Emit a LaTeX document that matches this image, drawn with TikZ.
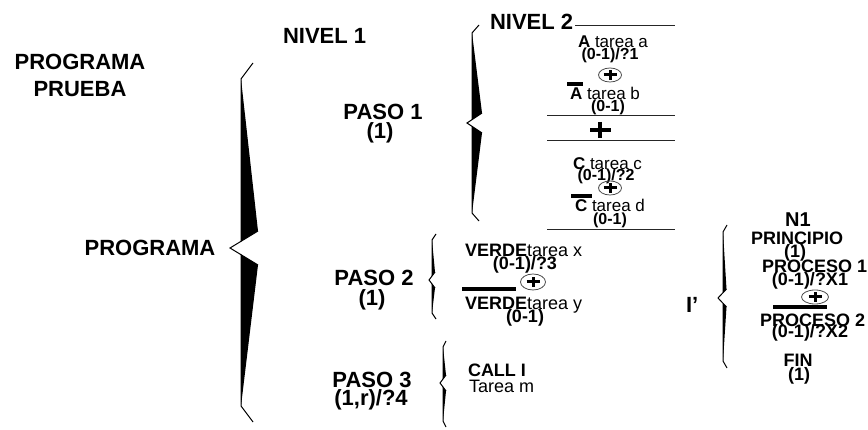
\documentclass[tikz,border=0pt]{standalone}
\usepackage{fontspec}
\setmainfont{Liberation Sans}
\usetikzlibrary{shapes.geometric}

% Curly brace drawn as two black wedges with thin hooks and an open tip.
% #1 spine x, #2 top end y, #3 tip y, #4 bottom end y, #5 bulge width,
% #6 bulge offset from tip, #7 tip depth, #8 hook dx, #9 hook dy
\newcommand\curlybrace[9]{%
  \pgfmathsetmacro\cbcross{#6*#7/(#5+#7)}%
  \fill (#1,#2+#9) -- (#1+#5,#3-#6) -- (#1,#3-\cbcross) -- cycle;
  \fill (#1,#4-#9) -- (#1+#5,#3+#6) -- (#1,#3+\cbcross) -- cycle;
  \draw[braceline] (#1+#8,#2) -- (#1,#2+#9) -- (#1,#3-\cbcross);
  \draw[braceline] (#1+#8,#4) -- (#1,#4-#9) -- (#1,#3+\cbcross);
  \draw[braceline] (#1+#5,#3-#6) -- (#1-#7,#3) -- (#1+#5,#3+#6);
}

% Circled plus ("or" mark): #1 node name, #2 position, #3 width, #4 height
\newcommand\ormark[4]{%
  \node[ormark, minimum width=#3pt, minimum height=#4pt] (#1) at (#2) {};
  \draw[plusbar] ([xshift=-6.5pt]#1.center) -- ([xshift=6.5pt]#1.center);
  \draw[plusbar] ([yshift=-5pt]#1.center) -- ([yshift=5pt]#1.center);
}

\tikzset{
  braceline/.style={line width=1pt, line join=miter},
  lbl/.style={inner sep=0pt, outer sep=0pt},
  bigtxt/.style={lbl, font=\fontsize{22}{24}\selectfont\bfseries},
  midtxt/.style={lbl, font=\fontsize{18}{20}\selectfont},
  smalltxt/.style={lbl, font=\fontsize{17}{19}\selectfont},
  cnttxt/.style={lbl, font=\fontsize{16}{18}\selectfont\bfseries},
  ntxt/.style={lbl, font=\fontsize{18}{20}\selectfont\bfseries},
  rule/.style={line width=1pt, black!85},
  negbar/.style={line width=4pt},
  plusbar/.style={line width=3pt},
  ormark/.style={ellipse, draw=black!70, line width=0.8pt, inner sep=0pt},
}

\begin{document}
\begin{tikzpicture}[x=1pt, y=-1pt]
\useasboundingbox (0,0) rectangle (868,430);

% ---- braces ----
\curlybrace{241}{63}{248}{422}{17}{17}{11}{12}{16}
\curlybrace{472}{25}{123}{221}{10}{10}{5}{7}{8}
\curlybrace{432}{234}{280}{319}{3}{8}{3}{4}{6}
\curlybrace{443}{341}{383}{427}{3}{8}{3}{3}{6}
\curlybrace{723}{225}{298}{368}{3.5}{9}{5}{4}{7}

% ---- level 0 ----
\node[bigtxt, anchor=base] (prog) at (80,70) {PROGRAMA};
\node[bigtxt, anchor=base] (prueba) at (80,97) {PRUEBA};
\node[bigtxt, anchor=base] (programa) at (150,256) {PROGRAMA};

% ---- level 1 ----
\node[bigtxt, anchor=base west] (niv1) at (283,44) {NIVEL 1};
\node[bigtxt, anchor=base] (paso1) at (383,120) {PASO 1};
\node[bigtxt, anchor=base] (paso1n) at (380,139) {(1)};
\node[bigtxt, anchor=base] (paso2) at (374,286) {PASO 2};
\node[bigtxt, anchor=base] (paso2n) at (372,306) {(1)};
\node[bigtxt, anchor=base] (paso3) at (372,388) {PASO 3};
\node[bigtxt, anchor=base] (paso3n) at (371,406) {(1,r)/?4};

% ---- level 2, step 1 ----
\node[bigtxt, anchor=base west] (niv2) at (490,30) {NIVEL 2};
\draw[rule] (575,26) -- (675,26);
\node[smalltxt, anchor=base west] (ta) at (578,48) {\textbf{A} tarea a};
\node[cnttxt, anchor=base] (tac) at (610,60) {(0-1)/?1};
\ormark{oa}{610,75}{23}{14}
\draw[negbar] (567,84) -- (583,84);
\node[smalltxt, anchor=base west] (tb) at (570,100) {\textbf{A} tarea b};
\node[cnttxt, anchor=base] (tbc) at (608,112) {(0-1)};
\draw[rule] (547,116) -- (675,116);
\draw[line width=4pt] (590,130) -- (611,130) (600,122) -- (600,138);
\draw[rule] (547,141) -- (675,141);
\node[smalltxt, anchor=base west] (tc) at (573,170) {\textbf{C} tarea c};
\node[cnttxt, anchor=base] (tcc) at (606,181) {(0-1)/?2};
\ormark{oc}{610,188}{23}{14}
\draw[negbar] (571,196) -- (592,196);
\node[smalltxt, anchor=base west] (td) at (575,212) {\textbf{C} tarea d};
\node[cnttxt, anchor=base] (tdc) at (610,225) {(0-1)};
\draw[rule] (547,230) -- (675,230);

% ---- level 2, step 2 ----
\node[midtxt, anchor=base west] (tx) at (465,257) {\textbf{VERDE}tarea x};
\node[midtxt, anchor=base] (txc) at (525,270) {\textbf{(0-1)/?3}};
\ormark{ox}{533,282}{25}{16}
\draw[negbar] (462,289) -- (516,289);
\node[midtxt, anchor=base west] (ty) at (465,310) {\textbf{VERDE}tarea y};
\node[midtxt, anchor=base] (tyc) at (525,323) {\textbf{(0-1)}};

% ---- level 2, step 3 ----
\node[midtxt, anchor=base west] (call) at (468,377) {\textbf{CALL I}};
\node[midtxt, anchor=base west] (tm) at (469,393) {Tarea m};

% ---- subprogram I' ----
\node[bigtxt, anchor=base west] (iprime) at (686,313) {I’};
\node[lbl, font=\fontsize{20}{22}\selectfont\bfseries, anchor=base] (n1) at (798,227) {N1};
\node[ntxt, anchor=base] (princ) at (797,245) {PRINCIPIO};
\node[ntxt, anchor=base] (princn) at (795,258) {(1)};
\node[ntxt, anchor=base west] (proc1) at (762,273) {PROCESO 1};
\node[ntxt, anchor=base] (proc1c) at (810,286) {(0-1)/?X1};
\ormark{op}{815,297}{27}{14}
\draw[negbar] (773,307) -- (827,307);
\node[ntxt, anchor=base west] (proc2) at (760,327) {PROCESO 2};
\node[ntxt, anchor=base] (proc2c) at (810,338) {(0-1)/?X2};
\node[ntxt, anchor=base] (fin) at (798,367) {FIN};
\node[ntxt, anchor=base] (finn) at (799,381) {(1)};
\end{tikzpicture}
\end{document}
